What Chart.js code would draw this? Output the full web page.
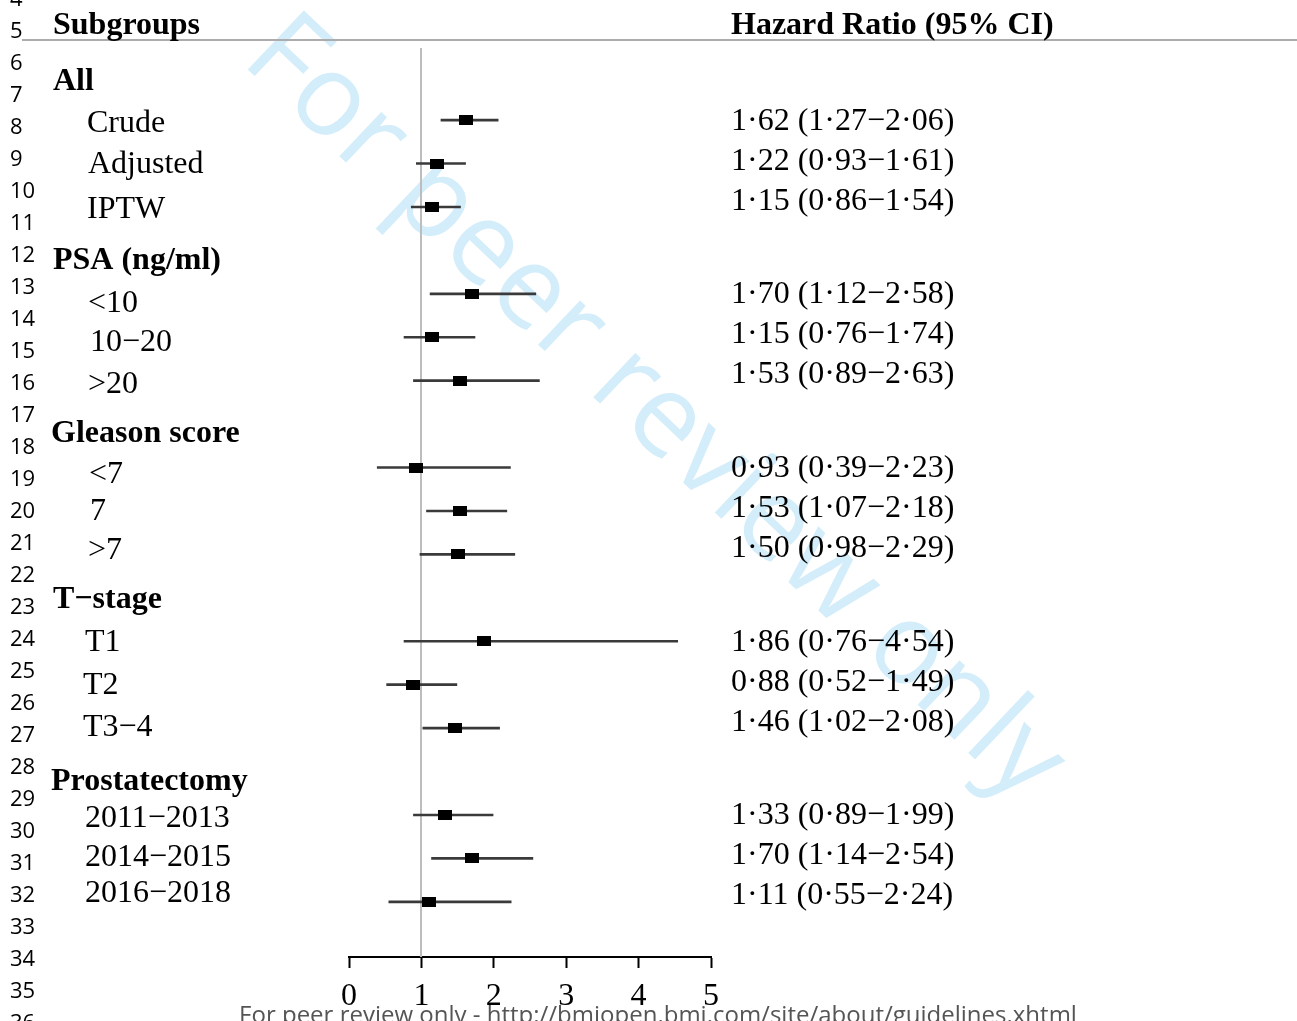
<!DOCTYPE html>
<html>
<head>
<meta charset="utf-8">
<script src="https://cdn.jsdelivr.net/npm/chart.js@4.4.1/dist/chart.umd.min.js"></script>
<style>
  html, body { margin: 0; padding: 0; background: #fff; }
  #wrap { width: 1297px; height: 1021px; position: relative; }
</style>
</head>
<body>
<div id="wrap"><canvas id="c" width="1297" height="1021"></canvas></div>
<script>
// ---------------- data ----------------
const groupNames = ['All', 'PSA (ng/ml)', 'Gleason score', 'T\u2212stage', 'Prostatectomy'];
const subgroupLabels = ['Crude', 'Adjusted', 'IPTW',
  '<10', '10\u221220', '>20',
  '<7', '7', '>7',
  'T1', 'T2', 'T3\u22124',
  '2011\u22122013', '2014\u22122015', '2016\u22122018'];
const hazardRatio = [1.62, 1.22, 1.15, 1.70, 1.15, 1.53, 0.93, 1.53, 1.50, 1.86, 0.88, 1.46, 1.33, 1.70, 1.11];
const ciLower     = [1.27, 0.93, 0.86, 1.12, 0.76, 0.89, 0.39, 1.07, 0.98, 0.76, 0.52, 1.02, 0.89, 1.14, 0.55];
const ciUpper     = [2.06, 1.61, 1.54, 2.58, 1.74, 2.63, 2.23, 2.18, 2.29, 4.54, 1.49, 2.08, 1.99, 2.54, 2.24];
const xTickValues = [0, 1, 2, 3, 4, 5];
const itemsPerGroup = 3;

// ---------------- layout helpers (not data) ----------------
const SERIF = '"Liberation Serif", "Times New Roman", serif';
const SANS = '"Open Sans", "Noto Sans", sans-serif';
const rowOf = subgroupLabels.map((_, i) => Math.floor(i / itemsPerGroup) * (itemsPerGroup + 1) + (i % itemsPerGroup) + 1);
const headerRowOf = groupNames.map((_, g) => g * (itemsPerGroup + 1));
const TEXT_DY = 2;
const headerNudge = [3, 8, 8, 0, 8];
const itemNudge = [1, -1, 1, 8, 3, 2, 5, -1, -6, -1, -1.5, -3, 2, -3, -10];
const itemIndent = [87, 88, 87, 88, 90, 88, 89, 90, 88, 85, 83, 83, 85, 85, 85];
const headerX = [53, 53, 51, 53, 51];

function fmt(v) { return v.toFixed(2).replace('.', '\u00b7'); }

const marker = document.createElement('canvas');
marker.width = 14; marker.height = 10;
(function () { const m = marker.getContext('2d'); m.fillStyle = '#000'; m.fillRect(0, 0, 14, 10); })();

const decorations = {
  id: 'decorations',
  beforeDraw(chart) {
    const ctx = chart.ctx;
    ctx.save();
    ctx.fillStyle = '#fff';
    ctx.fillRect(0, 0, chart.width, chart.height);
    ctx.translate(654, 410);
    ctx.rotate(43.5 * Math.PI / 180);
    ctx.font = '114px ' + SANS;
    ctx.fillStyle = '#d3edfa';
    ctx.textAlign = 'center';
    ctx.textBaseline = 'middle';
    ctx.fillText('For peer review only', 0, 0);
    ctx.restore();
  },
  beforeDatasetsDraw(chart) {
    const ctx = chart.ctx, x = chart.scales.x, a = chart.chartArea;
    ctx.save();
    ctx.strokeStyle = '#bdbdbd';
    ctx.lineWidth = 2;
    const px = Math.round(x.getPixelForValue(1));
    ctx.beginPath(); ctx.moveTo(px, a.top); ctx.lineTo(px, a.bottom); ctx.stroke();
    ctx.restore();
  },
  afterDraw(chart) {
    const ctx = chart.ctx, y = chart.scales.y;
    ctx.save();
    ctx.strokeStyle = '#acacac'; ctx.lineWidth = 2;
    ctx.beginPath(); ctx.moveTo(22, 40); ctx.lineTo(1297, 40); ctx.stroke();
    ctx.fillStyle = '#000';
    ctx.textBaseline = 'middle';
    ctx.textAlign = 'left';
    ctx.font = 'bold 32px ' + SERIF;
    ctx.fillText('Subgroups', 53, 24 + TEXT_DY);
    ctx.fillText('Hazard Ratio (95% CI)', 731, 24 + TEXT_DY);
    groupNames.forEach((g, gi) => {
      ctx.font = 'bold 32px ' + SERIF;
      ctx.fillText(g, headerX[gi], y.getPixelForValue(headerRowOf[gi]) + headerNudge[gi] + TEXT_DY);
    });
    subgroupLabels.forEach((lab, i) => {
      ctx.font = '32px ' + SERIF;
      ctx.fillText(lab, itemIndent[i], y.getPixelForValue(rowOf[i]) + itemNudge[i] + TEXT_DY);
      const gi = Math.floor(i / itemsPerGroup), k = i % itemsPerGroup;
      const firstPix = y.getPixelForValue(rowOf[gi * itemsPerGroup]);
      ctx.fillText(fmt(hazardRatio[i]) + ' (' + fmt(ciLower[i]) + '\u2212' + fmt(ciUpper[i]) + ')', 731, firstPix - 1 + k * 40 + TEXT_DY);
    });
    ctx.font = '22px ' + SANS;
    ctx.textAlign = 'left';
    for (let n = 4; n <= 36; n++) {
      ctx.fillText(String(n), 10, 32 + (n - 5) * 32);
    }
    ctx.fillStyle = '#555';
    ctx.textAlign = 'center';
    ctx.font = '24px ' + SANS;
    ctx.fillText('For peer review only - http://bmjopen.bmj.com/site/about/guidelines.xhtml', 658, 1016);
    ctx.restore();
  }
};

new Chart(document.getElementById('c'), {
  type: 'scatter',
  data: {
    datasets: [
      {
        type: 'bar',
        indexAxis: 'y',
        data: subgroupLabels.map((_, i) => ({ x: [ciLower[i], ciUpper[i]], y: rowOf[i] })),
        backgroundColor: '#3a3a3a',
        borderWidth: 0,
        barThickness: 2,
        order: 2
      },
      {
        type: 'scatter',
        data: subgroupLabels.map((_, i) => ({ x: hazardRatio[i], y: rowOf[i] })),
        pointStyle: marker,
        pointRadius: 7,
        order: 1
      }
    ]
  },
  options: {
    responsive: false,
    animation: false,
    events: [],
    layout: { padding: { left: 349, right: 586, top: 48, bottom: 0 } },
    plugins: { legend: { display: false }, tooltip: { enabled: false } },
    scales: {
      x: {
        type: 'linear',
        min: 0, max: 5,
        offset: false,
        afterBuildTicks: s => { s.ticks = xTickValues.map(v => ({ value: v })); },
        afterFit: s => { s.height = 64; },
        grid: { drawOnChartArea: false, drawTicks: true, tickLength: 11, color: '#000', tickWidth: 2, offset: false },
        border: { display: true, color: '#000', width: 2 },
        ticks: { color: '#000', font: { family: SERIF, size: 32 }, padding: 9, maxRotation: 0 }
      },
      y: {
        type: 'linear',
        display: false,
        reverse: true,
        offset: false,
        grace: 0,
        grid: { offset: false },
        min: -0.66, max: 20.27
      }
    }
  },
  plugins: [decorations]
});
</script>
</body>
</html>
